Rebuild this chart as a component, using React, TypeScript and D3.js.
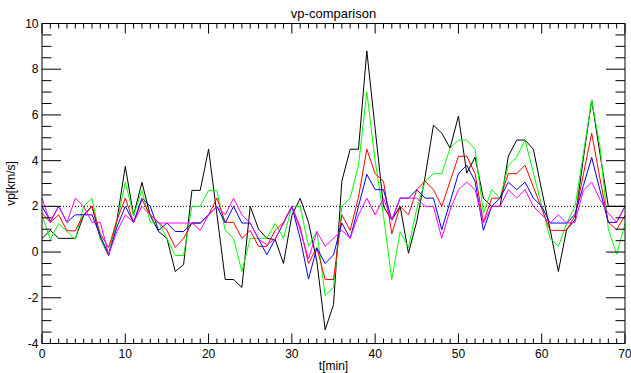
import React from "react";
import * as d3 from "d3";

// Time axis (minutes) and five vp profiles sampled once per minute
const minutes = d3.range(0, 71);

const seriesBlack = [
  0.6, 0.95, 0.6, 0.6, 0.6, 1.6, 2.0, 0.6, -0.15, 1.4,
  3.75, 1.6, 3.05, 1.6, 0.9, 0.6, -0.85, -0.55, 2.7, 2.7,
  4.5, 1.65, -1.2, -1.2, -1.55, 2.0, 1.0, 0.6, 0.55, -0.5,
  1.6, 2.35, 1.3, -0.4, -3.4, -2.3, 3.1, 4.5, 4.5, 8.8,
  5.4, 2.0, 1.4, 2.0, -0.05, 1.35, 3.3, 5.55, 5.2, 4.55,
  5.95, 3.45, 4.15, 2.35, 2.0, 2.0, 4.2, 4.9, 4.9, 4.5,
  2.7, 1.0, -0.85, 1.0, 1.4, 4.1, 6.65, 4.3, 2.0, 2.0,
  2.0,
];

const seriesGreen = [
  1.6, 0.55, 1.25, 0.9, 0.55, 2.0, 2.35, 0.6, -0.1, 1.3,
  3.05, 1.6, 2.7, 1.3, 1.3, 0.6, -0.15, -0.15, 2.0, 2.0,
  2.7, 2.7, 0.95, 0.6, -0.85, 0.6, 0.6, 0.6, 1.25, 0.6,
  2.0, 2.0, 0.25, 0.9, -1.9, -1.55, 2.0, 2.35, 3.8, 7.0,
  4.0, 1.6, -1.2, 0.9, 0.2, 1.9, 3.1, 3.43, 3.43, 4.55,
  4.9, 4.9, 4.5, 1.7, 2.73, 2.36, 3.8, 4.16, 4.9, 3.47,
  2.03, 0.6, 0.25, 1.25, 2.0, 4.3, 6.65, 4.6, 1.0, -0.1,
  1.25,
];

const seriesRed = [
  1.7, 1.3, 1.63, 0.93, 0.93, 1.63, 2.0, 0.8, 0.2, 1.4,
  2.36, 1.3, 2.3, 1.63, 1.3, 0.95, 0.2, 0.6, 1.27, 1.27,
  1.63, 2.36, 1.3, 1.3, 0.6, 0.95, 0.25, 0.25, 0.95, 1.3,
  2.0, 1.1, -0.5, 0.2, -1.2, -1.2, 1.63, 0.95, 2.4, 4.5,
  3.43, 3.1, 0.8, 2.0, 1.63, 2.73, 3.1, 2.73, 2.0, 3.1,
  4.19, 4.19, 3.43, 1.3, 2.36, 2.36, 3.43, 3.43, 3.8, 2.85,
  1.9, 0.95, 0.95, 0.95, 1.6, 3.4, 5.2, 3.2, 1.3, 0.98,
  1.6,
];

const seriesBlue = [
  2.0, 1.35, 2.0, 1.3, 1.63, 1.63, 1.63, 0.7, -0.1, 1.1,
  2.0, 1.3, 2.36, 2.0, 0.95, 1.27, 0.9, 0.9, 1.27, 1.27,
  1.63, 2.0, 1.27, 2.0, 1.27, 1.27, 0.57, -0.12, 0.57, 1.27,
  2.0, 0.6, -1.18, 0.18, -0.5, -0.12, 1.27, 0.6, 2.0, 3.4,
  2.73, 2.73, 1.4, 2.36, 2.36, 2.73, 2.36, 2.36, 0.98, 2.2,
  3.43, 3.8, 3.1, 0.95, 2.0, 2.36, 3.06, 2.73, 3.06, 2.36,
  2.0, 1.27, 1.27, 1.27, 1.65, 2.9, 4.14, 2.7, 1.3, 1.3,
  2.0,
];

const seriesMagenta = [
  2.36, 1.3, 2.0, 1.3, 2.36, 2.0, 1.3, 1.3, -0.1, 0.9,
  1.63, 1.3, 2.0, 1.63, 1.27, 1.27, 1.27, 1.27, 1.27, 0.95,
  1.63, 2.0, 1.63, 2.36, 1.63, 1.27, 0.57, 0.32, 0.57, 1.27,
  2.0, 0.98, -0.3, 0.9, 0.25, 0.6, 0.95, 0.6, 1.63, 2.36,
  1.63, 2.36, 1.4, 2.36, 2.36, 2.36, 2.0, 2.0, 0.6, 1.85,
  2.73, 3.06, 2.73, 1.27, 2.0, 2.0, 2.73, 2.36, 2.73, 2.0,
  1.63, 1.27, 1.63, 1.27, 1.3, 2.7, 3.06, 2.3, 1.7, 1.3,
  2.0,
];

const seriesList = [
  { values: seriesBlack, color: "#000000" },
  { values: seriesGreen, color: "#00ff00" },
  { values: seriesRed, color: "#ff0000" },
  { values: seriesBlue, color: "#0000ff" },
  { values: seriesMagenta, color: "#ff00ff" },
];

const xMajorTicks = [0, 10, 20, 30, 40, 50, 60, 70];
const yMajorTicks = [-4, -2, 0, 2, 4, 6, 8, 10];
const referenceLevel = 2;

const W = 631;
const H = 373;
const left = 42;
const right = 625;
const top = 23.5;
const bottom = 343.5;
const FONT = "'Liberation Sans', Arial, Helvetica, sans-serif";

export default function App() {
  const x = d3.scaleLinear().domain([0, 70]).range([left, right]);
  const y = d3.scaleLinear().domain([-4, 10]).range([bottom, top]);

  const line = d3
    .line<number>()
    .x((_, i) => x(minutes[i]))
    .y((d) => y(d));

  const xMinor = d3.range(0, 71, 1).filter((v) => v % 10 !== 0);
  const yMinor = d3.range(-4, 10.01, 0.5).filter((v) => Math.abs(v % 2) > 1e-6);

  const xMajLen = 10;
  const xMinLen = 5;
  const yMajLen = 19;
  const yMinLen = 9.5;

  return (
    <svg
      width={W}
      height={H}
      style={{ position: "absolute", left: 0, top: 0, background: "#fff" }}
      fontFamily={FONT}
    >
      <rect x={0} y={0} width={W} height={H} fill="#fff" />

      {/* reference level */}
      <line
        x1={left}
        x2={right}
        y1={y(referenceLevel)}
        y2={y(referenceLevel)}
        stroke="#000"
        strokeWidth={1}
        strokeDasharray="1,2"
      />

      {/* data lines */}
      {seriesList.map((s, i) => (
        <path key={i} d={line(s.values) || ""} fill="none" stroke={s.color} strokeWidth={1} />
      ))}

      {/* frame */}
      <rect x={left} y={top} width={right - left} height={bottom - top} fill="none" stroke="#000" strokeWidth={1} />

      {/* x ticks (bottom and top) */}
      {xMajorTicks.map((v) => (
        <g key={"xm" + v}>
          <line x1={x(v)} x2={x(v)} y1={bottom} y2={bottom - xMajLen} stroke="#000" />
          <line x1={x(v)} x2={x(v)} y1={top} y2={top + xMajLen} stroke="#000" />
          <text x={x(v)} y={358} textAnchor="middle" fontSize={12} fill="#000">
            {v}
          </text>
        </g>
      ))}
      {xMinor.map((v) => (
        <g key={"xn" + v}>
          <line x1={x(v)} x2={x(v)} y1={bottom} y2={bottom - xMinLen} stroke="#000" />
          <line x1={x(v)} x2={x(v)} y1={top} y2={top + xMinLen} stroke="#000" />
        </g>
      ))}

      {/* y ticks (left and right) */}
      {yMajorTicks.map((v) => (
        <g key={"ym" + v}>
          <line x1={left} x2={left + yMajLen} y1={y(v)} y2={y(v)} stroke="#000" />
          <line x1={right} x2={right - yMajLen} y1={y(v)} y2={y(v)} stroke="#000" />
          <text x={38.5} y={y(v) + 4} textAnchor="end" fontSize={12} fill="#000">
            {v}
          </text>
        </g>
      ))}
      {yMinor.map((v) => (
        <g key={"yn" + v}>
          <line x1={left} x2={left + yMinLen} y1={y(v)} y2={y(v)} stroke="#000" />
          <line x1={right} x2={right - yMinLen} y1={y(v)} y2={y(v)} stroke="#000" />
        </g>
      ))}

      {/* titles */}
      <text x={(left + right) / 2} y={18} textAnchor="middle" fontSize={13} fill="#000">
        vp-comparison
      </text>
      <text x={(left + right) / 2} y={370} textAnchor="middle" fontSize={12} fill="#000">
        t[min]
      </text>
      <text
        transform={`translate(15, ${(top + bottom) / 2}) rotate(-90)`}
        textAnchor="middle"
        fontSize={12}
        fill="#000"
      >
        vp[km/s]
      </text>
    </svg>
  );
}
